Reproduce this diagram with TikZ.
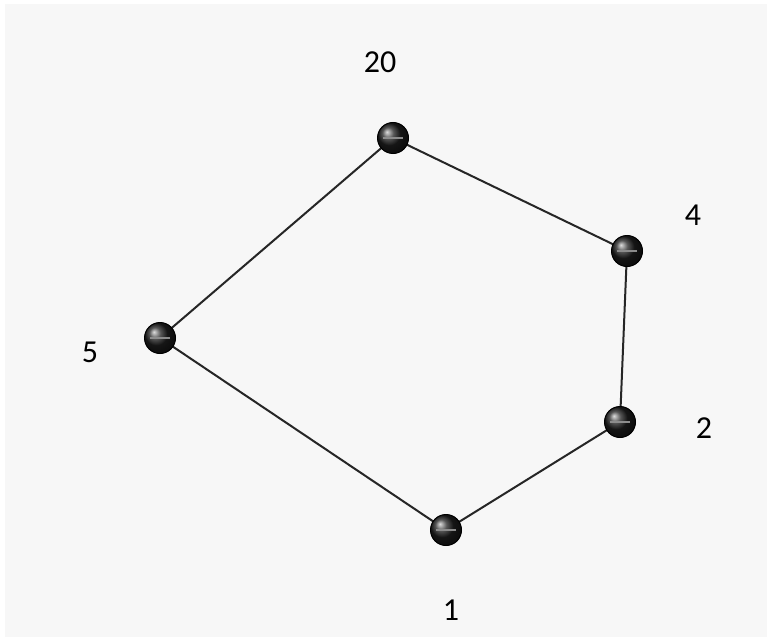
\documentclass[tikz,border=0pt]{standalone}
\usepackage{fontspec}
\setmainfont{Carlito}
\begin{document}
\begin{tikzpicture}[x=1pt,y=-1pt,
  vtx/.style={circle,minimum size=31pt,inner sep=0pt,draw=black,line width=1pt,ball color=black!88,shading=ball},
  lbl/.style={font=\fontsize{32}{36}\selectfont,text=black},
  edge/.style={draw=black!85,line width=2pt}]
\fill[white] (0,0) rectangle (767,639);
\fill[black!3] (5,4) rectangle (767,637);
\useasboundingbox (0,0) rectangle (767,639);
\coordinate (p20) at (393,138);
\coordinate (p4) at (627,251);
\coordinate (p5) at (160,338);
\coordinate (p2) at (620,422);
\coordinate (p1) at (446,530);
\draw[edge] (p20) -- (p4) -- (p2) -- (p1) -- (p5) -- cycle;
\node[vtx] (n20) at (p20) {};
\node[vtx] (n4) at (p4) {};
\node[vtx] (n5) at (p5) {};
\node[vtx] (n2) at (p2) {};
\node[vtx] (n1) at (p1) {};
\foreach \n in {n20,n4,n5,n2,n1}{\draw[black!45,line width=1.2pt] ([xshift=-10pt]\n.center) -- ([xshift=10pt]\n.center);}
\node[lbl] (l20) at (380,62) {20};
\node[lbl] (l4) at (693,215) {4};
\node[lbl] (l5) at (90,352) {5};
\node[lbl] (l2) at (704,428) {2};
\node[lbl] (l1) at (451,610) {1};
\end{tikzpicture}
\end{document}
